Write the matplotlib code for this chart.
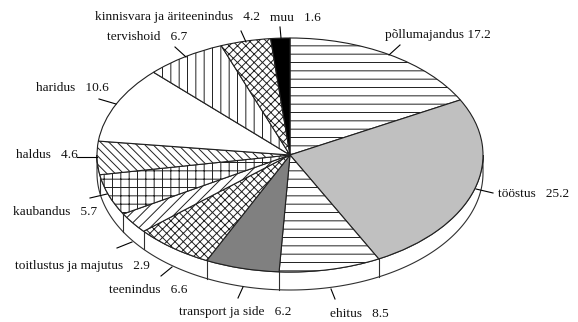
import numpy as np
import matplotlib
matplotlib.use("Agg")
import matplotlib.pyplot as plt
from matplotlib.patches import Polygon

categories = ["põllumajandus", "tööstus", "ehitus", "transport ja side", "teenindus",
              "toitlustus ja majutus", "kaubandus", "haldus", "haridus", "tervishoid",
              "kinnisvara ja äriteenindus", "muu"]
values = [17.2, 25.2, 8.5, 6.2, 6.6, 2.9, 5.7, 4.6, 10.6, 6.7, 4.2, 1.6]
tick_labels = ["põllumajandus 17.2", "tööstus   25.2", "ehitus   8.5", "transport ja side   6.2",
               "teenindus   6.6", "toitlustus ja majutus   2.9", "kaubandus   5.7", "haldus   4.6",
               "haridus   10.6", "tervishoid   6.7", "kinnisvara ja äriteenindus   4.2", "muu   1.6"]
colors = ["white", "#c0c0c0", "white", "#808080", "white", "white", "white", "white",
          "white", "white", "white", "black"]
hatches = ["--", None, "--", None, "xxxx", "///", "++", "\\\\\\\\", None, "||", "xxxx", None]

W, H = 578, 322
CX, CY, A, B, DEPTH = 290, 155, 193, 117, 18
plt.rcParams["font.family"] = ["Liberation Serif"]
plt.rcParams["hatch.linewidth"] = 0.7

fig = plt.figure(figsize=(W / 100, H / 100), dpi=100)
ax = fig.add_axes([0, 0, 1, 1])

def px(x, y):
    return (x - CX) / A, (CY - y) / B

# side wall
depth = DEPTH / B
fr = np.cumsum([0] + values) / sum(values)
t = np.linspace(np.pi / 2, 3 * np.pi / 2, 300)
xs, ys = np.sin(t), np.cos(t)
side = np.r_[np.c_[xs, ys - depth], np.c_[xs[::-1], ys[::-1]]]
ax.add_patch(Polygon(side, closed=True, fc="white", ec="#303030", lw=0.8, zorder=1))
for f in fr:
    a = 2 * np.pi * f
    if np.cos(a) < 0:
        ax.plot([np.sin(a)] * 2, [np.cos(a), np.cos(a) - depth], color="#303030", lw=0.8, zorder=1)

wedges, _ = ax.pie(values, startangle=90, counterclock=False, colors=colors, radius=1,
                   wedgeprops=dict(edgecolor="#202020", linewidth=0.8))
for w, h in zip(wedges, hatches):
    w.set_zorder(2)
    if h:
        w.set_hatch(h)

ax.set_aspect("auto")
ax.set_xlim((0 - CX) / A, (W - CX) / A)
ax.set_ylim((CY - H) / B, CY / B)
ax.axis("off")

# label anchor (text x, text y, ha), leader start, leader end in reference pixels
label_pos = [(385, 35, "left"), (498, 194, "left"), (330, 314, "left"), (179, 312, "left"),
             (109, 290, "left"), (15, 266, "left"), (13, 212, "left"), (16, 155, "left"),
             (36, 88, "left"), (107, 37, "left"), (95, 17, "left"), (270, 18, "left")]
leaders = [((400, 45), (389, 55)), ((493, 193), (476, 189)), ((335, 299), (331, 289)),
           ((238, 298), (243, 287)), ((161, 276), (172, 267)), ((117, 248), (132, 242)),
           ((90, 198), (107, 194)), ((77, 157), (97, 157)), ((99, 99), (116, 104)),
           ((175, 47), (186, 57)), ((241, 31), (246, 42)), ((280, 27), (281, 38))]
for lab, (x, y, ha), (p0, p1) in zip(tick_labels, label_pos, leaders):
    ax.text(*px(x, y), lab, ha=ha, va="center", fontsize=9.6, color="#111111", zorder=5)
    ax.plot(*zip(px(*p0), px(*p1)), color="black", lw=0.8, zorder=4)

fig.savefig("out.png", dpi=100)
